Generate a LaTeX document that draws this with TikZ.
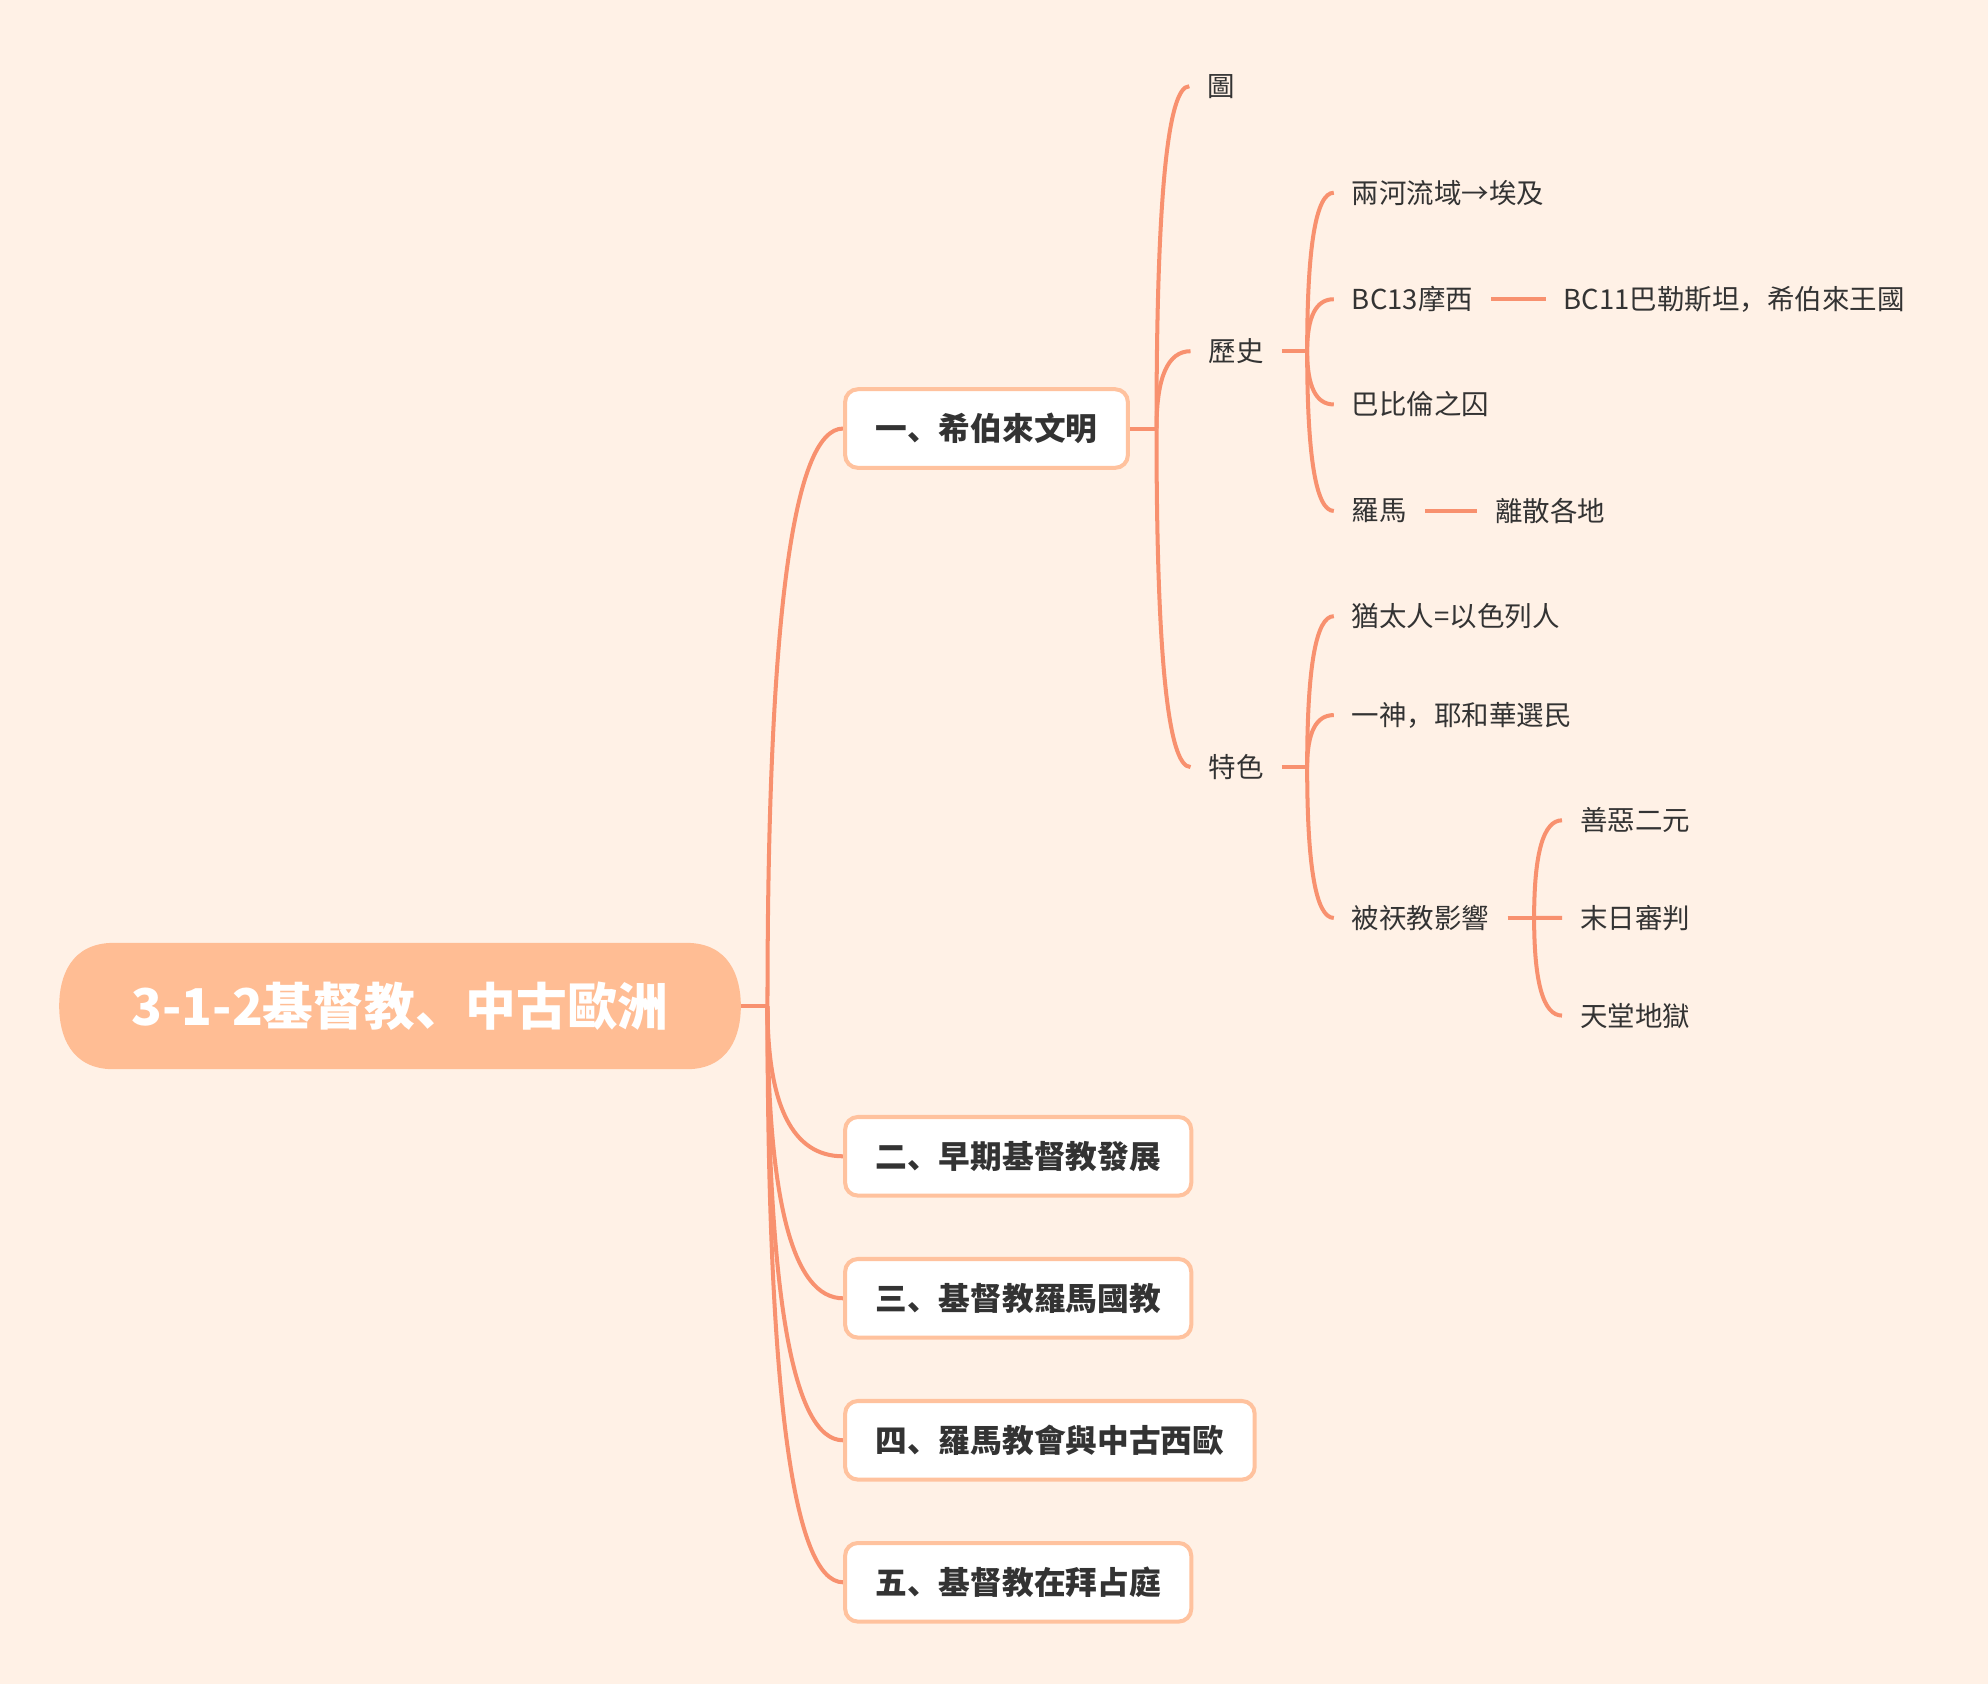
\documentclass[tikz,border=0pt]{standalone}
\usepackage{fontspec}
\setmainfont{Noto Sans CJK SC}
\usetikzlibrary{calc}
\definecolor{bgc}{HTML}{FFF1E6}
\definecolor{connc}{HTML}{F8916F}
\definecolor{rootfill}{HTML}{FFBD94}
\definecolor{boxline}{HTML}{FFC29E}
\definecolor{txt}{HTML}{333333}
\pgfdeclarelayer{bglayer}
\pgfdeclarelayer{background}
\pgfsetlayers{bglayer,background,main}
\newcommand\bcurve[2]{\draw[connline] (#1) .. controls ($(#1)!0.6667!(#1|-#2)$) and ($(#2)!0.6667!(#1|-#2)$) .. (#2);}
\begin{document}
\begin{tikzpicture}[x=0.6pt,y=-0.6pt,
  connline/.style={draw=connc, line width=1.9pt},
  rootnode/.style={minimum width=322.2pt, minimum height=59.4pt, inner sep=0pt,
    font=\fontsize{24}{28}\selectfont\bfseries, text=white},
  childbox/.style={draw=boxline, fill=white, line width=1.9pt, rounded corners=6pt,
    minimum height=37.2pt, inner xsep=14.4pt, inner ysep=0pt, anchor=west,
    font=\fontsize{15}{18}\selectfont\bfseries, text=txt},
  leaf/.style={anchor=west, inner xsep=8.4pt, inner ysep=2pt,
    font=\fontsize{13}{16}\selectfont, text=txt}]
\begin{pgfonlayer}{bglayer}
\fill[bgc] (0,0) rectangle (1568,1328);
\end{pgfonlayer}
\useasboundingbox (0,0) rectangle (1568,1328);

% root
\node[rootnode] (root) at (315.5,793.5) {3-1-2基督教、中古歐洲};
\begin{pgfonlayer}{background}
\fill[rootfill] ($(root.north west)+(43,0)$) -- ($(root.north east)+(-43,0)$)
  .. controls ($(root.north east)+(-9,0)$) and ($(root.east)+(0,-23)$) .. (root.east)
  .. controls ($(root.east)+(0,23)$) and ($(root.south east)+(-9,0)$) .. ($(root.south east)+(-43,0)$)
  -- ($(root.south west)+(43,0)$)
  .. controls ($(root.south west)+(9,0)$) and ($(root.west)+(0,23)$) .. (root.west)
  .. controls ($(root.west)+(0,-23)$) and ($(root.north west)+(9,0)$) .. ($(root.north west)+(43,0)$) -- cycle;
\end{pgfonlayer}

% main branches
\node[childbox] (c1) at (665,338) {一、希伯來文明};
\node[childbox] (c2) at (665,912) {二、早期基督教發展};
\node[childbox] (c3) at (665,1024) {三、基督教羅馬國教};
\node[childbox] (c4) at (665,1136) {四、羅馬教會與中古西歐};
\node[childbox] (c5) at (665,1248) {五、基督教在拜占庭};

% level 2
\node[leaf] (tu) at (938,68) {圖};
\node[leaf] (lishi) at (939,277) {歷史};
\node[leaf] (tese) at (939,605) {特色};

% level 3 (history)
\node[leaf] (h1) at (1052,152) {兩河流域→埃及};
\node[leaf] (h2) at (1052,236) {BC13摩西};
\node[leaf] (h2b) at (1219,236) {BC11巴勒斯坦，希伯來王國};
\node[leaf] (h3) at (1052,319) {巴比倫之囚};
\node[leaf] (h4) at (1052,403) {羅馬};
\node[leaf] (h4b) at (1165,403) {離散各地};

% level 3 (features)
\node[leaf] (f1) at (1052,486) {猶太人=以色列人};
\node[leaf] (f2) at (1052,564) {一神，耶和華選民};
\node[leaf] (f3) at (1052,724) {被祆教影響};
\node[leaf] (g1) at (1232,647) {善惡二元};
\node[leaf] (g2) at (1232,724) {末日審判};
\node[leaf] (g3) at (1232,801) {天堂地獄};

\begin{pgfonlayer}{background}
\coordinate (j0) at ($(root.east)+(21,0)$);
\draw[connline] (root.east) -- (j0);
\bcurve{j0}{c1.west}
\bcurve{j0}{c2.west}
\bcurve{j0}{c3.west}
\bcurve{j0}{c4.west}
\bcurve{j0}{c5.west}

\coordinate (j1) at ($(c1.east)+(21,0)$);
\draw[connline] (c1.east) -- (j1);
\bcurve{j1}{tu.west}
\bcurve{j1}{lishi.west}
\bcurve{j1}{tese.west}

\coordinate (j2) at ($(lishi.east)+(20,0)$);
\draw[connline] (lishi.east) -- (j2);
\bcurve{j2}{h1.west}
\bcurve{j2}{h2.west}
\bcurve{j2}{h3.west}
\bcurve{j2}{h4.west}
\draw[connline] (h2.east) -- (h2b.west);
\draw[connline] (h4.east) -- (h4b.west);

\coordinate (j3) at ($(tese.east)+(20,0)$);
\draw[connline] (tese.east) -- (j3);
\bcurve{j3}{f1.west}
\bcurve{j3}{f2.west}
\bcurve{j3}{f3.west}

\coordinate (j4) at ($(f3.east)+(21,0)$);
\draw[connline] (f3.east) -- (j4);
\bcurve{j4}{g1.west}
\bcurve{j4}{g2.west}
\bcurve{j4}{g3.west}
\end{pgfonlayer}
\end{tikzpicture}
\end{document}
